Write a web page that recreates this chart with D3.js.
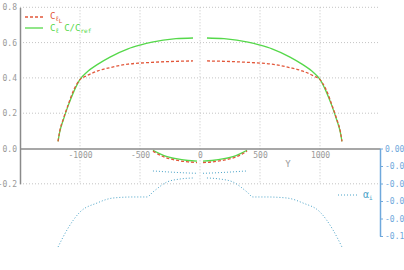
<!DOCTYPE html>
<html>
<head>
<meta charset="utf-8">
<script src="https://cdn.jsdelivr.net/npm/d3@7"></script>
<style>
  body { margin: 0; background: #fff; }
  text { font-family: "DejaVu Sans Mono", monospace; }
</style>
</head>
<body>
<div id="root"></div>
<script>
// span stations (Y) and values
const wingYLeft = [-1183, -1170, -1140, -1100, -1050, -1000, -950, -850, -750, -600, -500, -400, -200, -58];
const wingYRight = [58, 200, 400, 500, 600, 750, 850, 950, 1000, 1050, 1100, 1140, 1170, 1183];
const clcLeft = [0.04, 0.09, 0.16, 0.24, 0.325, 0.392, 0.428, 0.478, 0.518, 0.565, 0.586, 0.603, 0.622, 0.626];
const clcRight = [0.626, 0.622, 0.603, 0.586, 0.565, 0.518, 0.478, 0.428, 0.392, 0.325, 0.24, 0.16, 0.09, 0.04];
const cllLeft = [0.04, 0.095, 0.165, 0.245, 0.335, 0.39, 0.41, 0.44, 0.458, 0.478, 0.484, 0.488, 0.494, 0.496];
const cllRight = [0.496, 0.494, 0.488, 0.484, 0.478, 0.458, 0.44, 0.41, 0.39, 0.335, 0.245, 0.165, 0.095, 0.04];

const tailYLeft = [-392, -350, -300, -200, -100, -25];
const tailYRight = [25, 100, 200, 300, 350, 392];
const tailClcLeft = [-0.01, -0.025, -0.04, -0.058, -0.068, -0.071];
const tailClcRight = [-0.071, -0.068, -0.058, -0.04, -0.025, -0.01];
const tailCllLeft = [-0.015, -0.032, -0.048, -0.066, -0.076, -0.08];
const tailCllRight = [-0.08, -0.076, -0.066, -0.048, -0.032, -0.015];
const tailAlphaLeft = [-0.0257, -0.026, -0.0265, -0.0273, -0.028, -0.0283];
const tailAlphaRight = [-0.0283, -0.028, -0.0273, -0.0265, -0.026, -0.0257];

const alphaYLeft = [-1183, -1108, -1000, -858, -725, -558, -442, -392, -275, -167, -58];
const alphaLeft = [-0.1126, -0.093, -0.0726, -0.0623, -0.0566, -0.0554, -0.0554, -0.0497, -0.0383, -0.0349, -0.0337];
const alphaYRight = [58, 167, 275, 392, 442, 558, 725, 858, 1000, 1108, 1183];
const alphaRight = [-0.0337, -0.0349, -0.0383, -0.0497, -0.0554, -0.0554, -0.0566, -0.0623, -0.0726, -0.093, -0.1126];

const xTicks = [-1000, -500, 0, 500, 1000];
const yTicks = [-0.2, 0.0, 0.2, 0.4, 0.6, 0.8];
const y2Ticks = [0.0, -0.02, -0.04, -0.06, -0.08, -0.10];

const width = 404, height = 270;
const green = "#55d84a", red = "#e2573a", blue = "#4aa3c8", axisBlue = "#6fa8dc", gray = "#8a8a8a";

const svg = d3.select("#root").append("svg").attr("width", width).attr("height", height);

const x = d3.scaleLinear().domain([-1500, 1500]).range([20, 380]);
const y = d3.scaleLinear().domain([-0.2, 0.8]).range([183.8, 7.3]);
const y2 = d3.scaleLinear().domain([-0.1, 0]).range([236, 148.5]);

// grid
svg.append("g").selectAll("line").data(xTicks).enter().append("line")
  .attr("x1", d => x(d)).attr("x2", d => x(d))
  .attr("y1", y(0.8)).attr("y2", y(-0.2))
  .attr("stroke", "#c4c4c4").attr("stroke-dasharray", "1,2");
svg.append("g").selectAll("line").data(yTicks.filter(d => d !== 0)).enter().append("line")
  .attr("x1", x(-1500)).attr("x2", x(1500))
  .attr("y1", d => y(d)).attr("y2", d => y(d))
  .attr("stroke", "#c4c4c4").attr("stroke-dasharray", "1,2");

const fmt = n => d => d.toFixed(n).replace("\u2212", "-");

// left axis
const yAxis = svg.append("g").attr("transform", "translate(" + x(-1500) + ",0)")
  .call(d3.axisLeft(y).tickValues(yTicks).tickSize(0).tickPadding(3).tickFormat(fmt(1)));
yAxis.select(".domain").attr("stroke", gray).attr("stroke-width", 1.5);
yAxis.selectAll("text").attr("fill", "#999").attr("font-size", 8);

// x axis at zero
const xAxis = svg.append("g").attr("transform", "translate(0," + y(0) + ")")
  .call(d3.axisBottom(x).tickValues(xTicks).tickSize(0).tickPadding(4).tickSizeOuter(0).tickFormat(d => String(d)));
xAxis.select(".domain").attr("stroke", gray).attr("stroke-width", 1.5);
xAxis.selectAll("text").attr("fill", "#999").attr("font-size", 8);

svg.append("text").attr("x", 288).attr("y", 167).attr("text-anchor", "middle")
  .attr("fill", "#999").attr("font-size", 9).text("Y");

// right axis
const y2Axis = svg.append("g").attr("transform", "translate(" + x(1500) + ",0)")
  .call(d3.axisRight(y2).tickValues(y2Ticks).tickSize(3).tickPadding(2).tickSizeOuter(0).tickFormat(fmt(2)));
y2Axis.select(".domain").attr("stroke", axisBlue).attr("stroke-width", 1.5);
y2Axis.selectAll("line").attr("stroke", axisBlue);
y2Axis.selectAll("text").attr("fill", axisBlue).attr("font-size", 8);

const line = d3.line().x(d => x(d[0])).y(d => y(d[1])).curve(d3.curveMonotoneX);
const line2 = d3.line().x(d => x(d[0])).y(d => y2(d[1])).curve(d3.curveMonotoneX);
const zip = (a, b) => a.map((v, i) => [v, b[i]]);

const drawSeries = (pts, gen, stroke, dash, w) => {
  svg.append("path").datum(pts).attr("d", gen)
    .attr("fill", "none").attr("stroke", stroke).attr("stroke-width", w)
    .attr("stroke-dasharray", dash);
};

// alpha_i
drawSeries(zip(alphaYLeft, alphaLeft), line2, blue, "1,2", 1);
drawSeries(zip(alphaYRight, alphaRight), line2, blue, "1,2", 1);
drawSeries(zip(tailYLeft, tailAlphaLeft), line2, blue, "1,2", 1);
drawSeries(zip(tailYRight, tailAlphaRight), line2, blue, "1,2", 1);

// Cl c/cref
drawSeries(zip(wingYLeft, clcLeft), line, green, null, 1.3);
drawSeries(zip(wingYRight, clcRight), line, green, null, 1.3);
drawSeries(zip(tailYLeft, tailClcLeft), line, green, null, 1.3);
drawSeries(zip(tailYRight, tailClcRight), line, green, null, 1.3);

// Cl_L
drawSeries(zip(wingYLeft, cllLeft), line, red, "3,2", 1.3);
drawSeries(zip(wingYRight, cllRight), line, red, "3,2", 1.3);
drawSeries(zip(tailYLeft, tailCllLeft), line, red, "3,2", 1.3);
drawSeries(zip(tailYRight, tailCllRight), line, red, "3,2", 1.3);

// legend
const lg = svg.append("g");
lg.append("line").attr("x1", 25).attr("x2", 43).attr("y1", 17).attr("y2", 17)
  .attr("stroke", red).attr("stroke-width", 1.3).attr("stroke-dasharray", "3,2");
const t1 = lg.append("text").attr("x", 50).attr("y", 19).attr("fill", red).attr("font-size", 9);
t1.append("tspan").text("C");
t1.append("tspan").attr("font-size", 7).attr("dy", 2).text("ℓ");
t1.append("tspan").attr("font-size", 6).attr("dy", 2).text("L");

lg.append("line").attr("x1", 25).attr("x2", 43).attr("y1", 28).attr("y2", 28)
  .attr("stroke", green).attr("stroke-width", 1.3);
const t2 = lg.append("text").attr("x", 50).attr("y", 31).attr("fill", green).attr("font-size", 9);
t2.append("tspan").text("C");
t2.append("tspan").attr("font-size", 7).attr("dy", 2).text("ℓ");
t2.append("tspan").attr("dy", -2).text(" C/C");
t2.append("tspan").attr("font-size", 6).attr("dy", 2).text("ref");

lg.append("line").attr("x1", 338).attr("x2", 357).attr("y1", 195).attr("y2", 195)
  .attr("stroke", blue).attr("stroke-dasharray", "1,2");
const t3 = lg.append("text").attr("x", 363).attr("y", 198).attr("fill", blue).attr("font-size", 10);
t3.append("tspan").text("α");
t3.append("tspan").attr("font-size", 6).attr("dy", 2).text("i");
</script>
</body>
</html>
